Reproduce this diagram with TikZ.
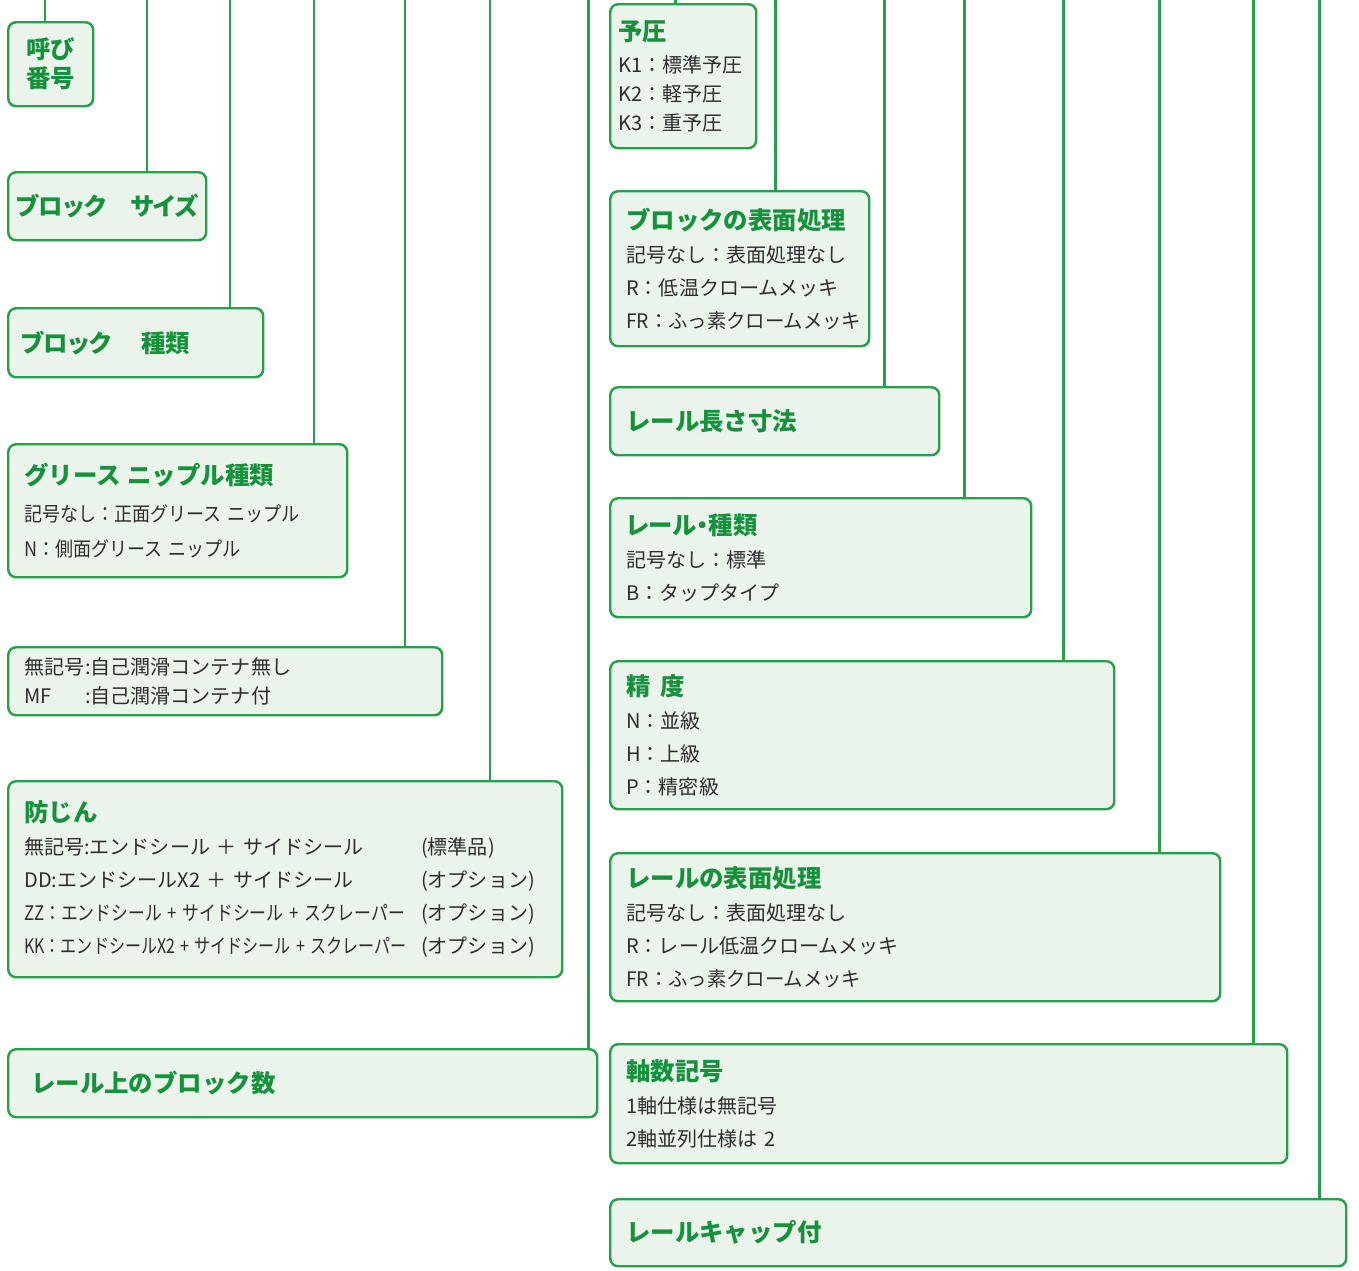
\documentclass[tikz,border=0pt]{standalone}
\usepackage{fontspec}
\setmainfont{Noto Sans CJK JP}
\newfontfamily\propfont[RawFeature=+palt]{Noto Sans CJK JP}
\definecolor{ln}{RGB}{40,160,75}
\definecolor{tt}{RGB}{22,145,60}
\definecolor{bg}{RGB}{234,244,235}
\definecolor{tx}{RGB}{45,45,45}
\newcommand\boxtitle[1]{{\color{tt}\bfseries\fontsize{13.9}{18.8}\selectfont #1}}

\begin{document}
\begin{tikzpicture}[
    x=0.02cm, y=-0.02cm,
    font=\fontsize{11.4}{18.8}\selectfont,
    l/.style={
        line width=1.7pt,
        color=ln
    },
    e/.style 2 args={
        rectangle, rounded corners=4.5pt, anchor=north west,
        minimum width=#1*0.02cm, minimum height=#2*0.02cm,
        text width=(#1-32)*0.02cm, inner xsep=0.32cm, align=left,
        fill=bg, draw=ln, line width=1.4pt, text=tx
    },
    tight/.style={font=\fontsize{11.4}{16.5}\selectfont}
]

    \useasboundingbox (0,0) rectangle (1359,1271);

    % left column
    \node [e={85}{84}, align=center, tight] (yobi) at (7,21) {\boxtitle{呼び}\\\boxtitle{番号}};
    \node [e={198}{68}, align=center, inner xsep=0.1cm, text width=3.76cm] (size) at (7,171)
        {\boxtitle{\propfont\mbox{ブロック\quad サイズ}}};
    \node [e={255}{69}] (kind) at (7,307) {\hspace*{-0.06cm}\boxtitle{\propfont\mbox{ブロック\hspace{0.6cm}種類}}};
    \node [e={339}{133}] (grease) at (7,443) {\boxtitle{グリース~ニップル種類}\\[2pt]
        \scalebox{0.9}[1]{記号なし：正面グリース~ニップル}\\[1pt]
        \scalebox{0.9}[1]{N：側面グリース~ニップル}};
    \node [e={434}{68}, tight] (mf) at (7,646) {\makebox[1.22cm][l]{無記号}:自己潤滑コンテナ無し\\
        \makebox[1.22cm][l]{MF}:自己潤滑コンテナ付};
    \node [e={554}{196}] (dust) at (7,780) {\boxtitle{防じん}\\
        \makebox[7.94cm][l]{無記号:エンドシール~＋~サイドシール}(標準品)\\
        \makebox[7.94cm][l]{DD:エンドシールX2~＋~サイドシール}(オプション)\\
        \makebox[7.94cm][l]{\scalebox{0.84}[1]{ZZ：エンドシール~+~サイドシール~+~スクレーパー}}(オプション)\\
        \makebox[7.94cm][l]{\scalebox{0.8}[1]{KK：エンドシールX2~+~サイドシール~+~スクレーパー}}(オプション)};
    \node [e={589}{68}] (count) at (7,1048) {\hspace*{0.14cm}\boxtitle{レール上のブロック数}};

    % right column
    \node [e={146}{144}, tight, inner xsep=0.16cm, text width=2.6cm] (pre) at (609,3) {\boxtitle{予圧}\\[2pt]
        K1：標準予圧\\K2：軽予圧\\K3：重予圧};
    \node [e={259}{155}] (bsurf) at (609,190) {\boxtitle{ブロックの表面処理}\\
        記号なし：表面処理なし\\R：低温クロームメッキ\\\scalebox{0.965}[1]{FR：ふっ素クロームメッキ}};
    \node [e={329}{68}] (rlen) at (609,386) {\boxtitle{レール長さ寸法}};
    \node [e={421}{119}] (rkind) at (609,497) {\boxtitle{\propfont レール・種類}\\
        記号なし：標準\\B：タップタイプ};
    \node [e={504}{148}] (prec) at (609,660) {\boxtitle{精\hspace{0.2cm}度}\\
        N：並級\\H：上級\\P：精密級};
    \node [e={610}{148}] (rsurf) at (609,852) {\boxtitle{レールの表面処理}\\
        記号なし：表面処理なし\\R：レール低温クロームメッキ\\\scalebox{0.965}[1]{FR：ふっ素クロームメッキ}};
    \node [e={677}{119}] (axis) at (609,1043) {\boxtitle{軸数記号}\\
        1軸仕様は無記号\\2軸並列仕様は~2};
    \node [e={736}{67}] (cap) at (609,1198) {\boxtitle{レールキャップ付}};

    % leader lines from the top edge
    \coordinate (yobi-top)   at (45,0);
    \coordinate (size-top)   at (147,0);
    \coordinate (kind-top)   at (230,0);
    \coordinate (grease-top) at (314,0);
    \coordinate (mf-top)     at (405,0);
    \coordinate (dust-top)   at (490,0);
    \coordinate (count-top)  at (588,0);
    \coordinate (pre-top)    at (675,0);
    \coordinate (bsurf-top)  at (775,0);
    \coordinate (rlen-top)   at (884,0);
    \coordinate (rkind-top)  at (964,0);
    \coordinate (prec-top)   at (1063,0);
    \coordinate (rsurf-top)  at (1159,0);
    \coordinate (axis-top)   at (1253,0);
    \coordinate (cap-top)    at (1319,0);

    \draw [l] (yobi-top)   -- (yobi-top   |- yobi.north);
    \draw [l] (size-top)   -- (size-top   |- size.north);
    \draw [l] (kind-top)   -- (kind-top   |- kind.north);
    \draw [l] (grease-top) -- (grease-top |- grease.north);
    \draw [l] (mf-top)     -- (mf-top     |- mf.north);
    \draw [l] (dust-top)   -- (dust-top   |- dust.north);
    \draw [l] (count-top)  -- (count-top  |- count.north);
    \draw [l] (pre-top)    -- (pre-top    |- pre.north);
    \draw [l] (bsurf-top)  -- (bsurf-top  |- bsurf.north);
    \draw [l] (rlen-top)   -- (rlen-top   |- rlen.north);
    \draw [l] (rkind-top)  -- (rkind-top  |- rkind.north);
    \draw [l] (prec-top)   -- (prec-top   |- prec.north);
    \draw [l] (rsurf-top)  -- (rsurf-top  |- rsurf.north);
    \draw [l] (axis-top)   -- (axis-top   |- axis.north);
    \draw [l] (cap-top)    -- (cap-top    |- cap.north);

\end{tikzpicture}
\end{document}
